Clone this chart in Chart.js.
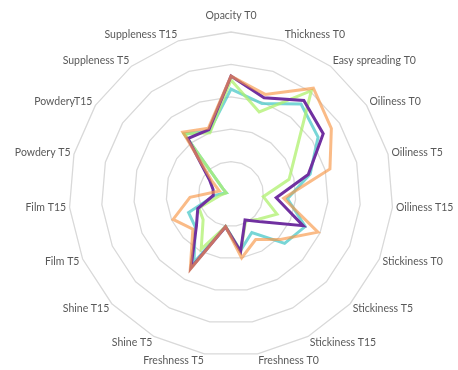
<!DOCTYPE html>
<html>
<head>
<meta charset="utf-8">
<script src="https://cdn.jsdelivr.net/npm/chart.js@4/dist/chart.umd.min.js"></script>
<style>
  html, body { margin: 0; padding: 0; background: #fff; }
  #wrap { width: 458px; height: 370px; position: relative; }
</style>
</head>
<body>
<div id="wrap"><canvas id="radarChart"></canvas></div>
<script>
// attributes, clockwise from the top
const attributes = ['Opacity T0', 'Thickness T0', 'Easy spreading T0', 'Oiliness T0', 'Oiliness T5',
  'Oiliness T15', 'Stickiness T0', 'Stickiness T5', 'Stickiness T15', 'Freshness T0', 'Freshness T5',
  'Shine T5', 'Shine T15', 'Film T5', 'Film T15', 'Powdery T5', 'PowderyT15', 'Suppleness T5', 'Suppleness T15'];

// scores (0 - 5 scale)
const orangeScores = [3.64, 3.25, 4.14, 3.7, 3.15, 1.63, 2.93, 2.07, 1.6, 2.0, 1.02, 2.64, 1.6, 1.95, 1.27, 0.37, 0.68, 2.42, 2.15];
const purpleScores = [3.64, 3.14, 3.66, 3.4, 2.46, 1.4, 2.43, 1.27, 0.91, 1.8, 1.03, 2.6, 1.45, 1.12, 0.55, 0.57, 0.79, 2.17, 2.1];
const greenScores  = [3.52, 2.68, 4.04, 2.4, 1.85, 1.0, 1.55, 1.15, 0.95, 1.8, 1.02, 1.93, 1.17, 1.08, 0.3, 0.15, 0.3, 2.35, 2.0];
const cyanScores   = [3.24, 2.95, 3.52, 3.21, 2.52, 1.75, 2.5, 2.25, 1.35, 1.77, 1.02, 2.4, 1.5, 1.43, 0.5, 0.15, 0.3, 2.35, 2.05];

const scaleMax = 5;

// where the web sits on the page
const centerX = 231;
const centerY = 194;
const outerRadius = 162;
const labelSize = 10.5;

function serie(values, color) {
  return {
    data: values,
    borderColor: color,
    borderWidth: 3,
    fill: false,
    pointRadius: 0,
    tension: 0
  };
}

// pin the web and put the labels next to the outer ring, Excel style
function placeWeb(scale) {
  scale.xCenter = centerX;
  scale.yCenter = centerY;
  scale.drawingArea = outerRadius;
  const n = scale._pointLabels.length;
  const lineH = labelSize * 1.2;
  scale._pointLabelItems = scale._pointLabels.map((lbl, i) => {
    const a = i * 2 * Math.PI / n;
    const sin = Math.sin(a), cos = Math.cos(a);
    const vx = centerX + outerRadius * sin;
    const vy = centerY - outerRadius * cos;
    let align = 'center', x = vx, mid = vy - 16;
    if (i > 0) {
      align = i <= n / 2 ? 'left' : 'right';
      x = vx + 3.5 * sin;
      mid = vy - 7 * cos;
    }
    const top = mid - lineH / 2;
    return { visible: true, x: x, y: top, textAlign: align, left: x, top: top, right: x, bottom: top + lineH };
  });
}

const ctx = document.getElementById('radarChart').getContext('2d');

// first dataset is drawn on top
const radarChart = new Chart(ctx, {
  type: 'radar',
  data: {
    labels: attributes,
    datasets: [
      serie(orangeScores, 'rgba(247, 150, 70, 0.65)'),
      serie(purpleScores, '#7030a0'),
      serie(greenScores, 'rgba(175, 240, 110, 0.75)'),
      serie(cyanScores, 'rgba(75, 200, 200, 0.75)')
    ]
  },
  options: {
    responsive: true,
    maintainAspectRatio: false,
    animation: false,
    plugins: {
      legend: { display: false },
      tooltip: { enabled: false }
    },
    scales: {
      r: {
        min: 0,
        max: scaleMax,
        afterFit: placeWeb,
        ticks: { display: false, stepSize: 1 },
        angleLines: { display: false },
        grid: { color: '#d9d9d9', lineWidth: 1.3 },
        pointLabels: {
          color: '#595959',
          font: { family: 'Lato', size: labelSize }
        }
      }
    }
  }
});
</script>
</body>
</html>
